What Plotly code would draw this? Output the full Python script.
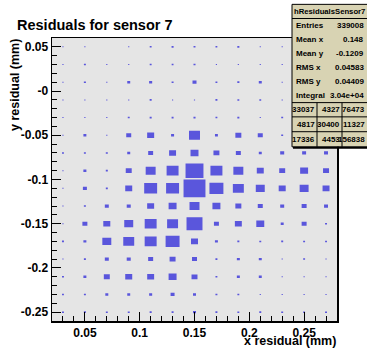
import numpy as np
import plotly.graph_objects as go

# ---------------- data ----------------
x_centers = [0.03, 0.05, 0.07, 0.09, 0.11, 0.13, 0.15, 0.17, 0.19, 0.21, 0.23, 0.25, 0.27]
y_centers = [0.05, 0.03, 0.01, -0.01, -0.03, -0.05, -0.07, -0.09, -0.11, -0.13,
             -0.15, -0.17, -0.19, -0.21, -0.23, -0.25]
bin_width = 0.02

# bin contents, one row per y bin (top to bottom), one column per x bin
counts = [
    [5, 6, 0, 4, 19, 22, 20, 18, 23, 6, 4, 5, 5],
    [4, 21, 5, 6, 20, 18, 22, 6, 5, 4, 6, 5, 5],
    [5, 23, 6, 47, 50, 21, 86, 20, 24, 48, 6, 20, 20],
    [4, 5, 6, 5, 22, 6, 5, 21, 20, 19, 5, 5, 5],
    [5, 6, 4, 20, 22, 21, 23, 19, 22, 6, 20, 20, 20],
    [5, 47, 4, 133, 262, 48, 640, 46, 190, 135, 20, 48, 48],
    [20, 21, 22, 48, 131, 258, 340, 189, 133, 47, 86, 84, 85],
    [6, 49, 22, 190, 528, 762, 1715, 765, 531, 258, 190, 338, 192],
    [6, 86, 21, 261, 895, 898, 2565, 1040, 642, 430, 262, 428, 259],
    [5, 22, 84, 86, 260, 338, 532, 340, 192, 134, 85, 133, 84],
    [6, 133, 262, 430, 760, 640, 1360, 132, 258, 338, 47, 133, 21],
    [21, 48, 428, 640, 765, 1038, 261, 47, 22, 20, 21, 20, 19],
    [5, 21, 85, 86, 133, 190, 133, 21, 48, 47, 5, 20, 5],
    [20, 48, 190, 262, 258, 340, 189, 20, 48, 47, 5, 5, 6],
    [19, 21, 48, 47, 49, 85, 48, 21, 20, 5, 6, 5, 5],
    [20, 21, 19, 20, 22, 21, 48, 21, 20, 21, 20, 19, 20],
]

xtick_vals = [0.05, 0.1, 0.15, 0.2, 0.25]
xtick_text = ["0.05", "0.1", "0.15", "0.2", "0.25"]
ytick_vals = [0.05, 0.0, -0.05, -0.1, -0.15, -0.2, -0.25]
ytick_text = ["0.05", "-0", "-0.05", "-0.1", "-0.15", "-0.2", "-0.25"]

title_text = "Residuals for sensor 7"
x_title = "x residual (mm)"
y_title = "y residual (mm)"

stat_title = "hResidualsSensor7"
stat_names = ["Entries", "Mean x", "Mean y", "RMS x", "RMS y", "Integral"]
stat_values = ["339008", "0.148", "-0.1209", "0.04583", "0.04409", "3.04e+04"]
grid_values = [["33037", "4327", "76473"],
               ["4817", "30400", "11327"],
               ["17336", "4453", "156838"]]

# ---------------- geometry / style ----------------
W, H = 367, 352
L, R, T, B = 52, 30, 38, 28
PW, PH = W - L - R, H - T - B
FONT = "Liberation Sans"
BOXCOL = "#5a56dc"
STATCOL = "#d8d3b3"


def px(x):
    return (x - L) / PW


def py(y):
    return (H - B - y) / PH


# ---------------- boxes (area proportional to content) ----------------
cnt = np.array(counts, dtype=float)
cmax = cnt.max()
xs, ys = [], []
for j, yc in enumerate(y_centers):
    for i, xc in enumerate(x_centers):
        c = cnt[j, i]
        if c <= 0:
            continue
        r = max(np.sqrt(c / cmax), 0.055)
        hx = 0.5 * bin_width * r
        hy = 0.5 * bin_width * r
        xs += [xc - hx, xc + hx, xc + hx, xc - hx, xc - hx, None]
        ys += [yc - hy, yc - hy, yc + hy, yc + hy, yc - hy, None]

fig = go.Figure()
fig.add_trace(go.Scatter(x=xs, y=ys, mode="lines", fill="toself",
                         fillcolor=BOXCOL, line=dict(width=0, color=BOXCOL),
                         hoverinfo="skip", showlegend=False))

tickfont = dict(family=FONT, size=12, color="black", weight="bold")
axis_common = dict(showline=True, linecolor="black", linewidth=1.5, mirror=True,
                   showgrid=False, zeroline=False, ticks="inside", ticklen=9,
                   tickwidth=1, tickcolor="black", tickfont=tickfont,
                   tickmode="array")
fig.update_xaxes(range=[0.02, 0.28], tickvals=xtick_vals, ticktext=xtick_text,
                 minor=dict(ticks="inside", ticklen=5, tickwidth=1, tickcolor="black",
                            tick0=0.0, dtick=0.01),
                 **axis_common)
fig.update_yaxes(range=[-0.26, 0.06], tickvals=ytick_vals, ticktext=ytick_text,
                 minor=dict(ticks="inside", ticklen=5, tickwidth=1, tickcolor="black",
                            tick0=0.0, dtick=0.01),
                 **axis_common)

shapes = []
annots = []

# axis titles
annots.append(dict(text="<b>%s</b>" % x_title, xref="paper", yref="paper",
                   x=1.0, y=py(344), xanchor="right", yanchor="middle",
                   showarrow=False, borderpad=0,
                   font=dict(family=FONT, size=12.5, color="black")))
annots.append(dict(text="<b>%s</b>" % y_title, xref="paper", yref="paper",
                   x=px(15), y=1.0, xanchor="center", yanchor="top", textangle=-90,
                   showarrow=False, borderpad=0,
                   font=dict(family=FONT, size=12.5, color="black")))

# stats box
bx0, bx1, by0, by1 = 292, 368, 4, 148
shapes.append(dict(type="rect", xref="paper", yref="paper", x0=px(bx0), x1=px(bx1),
                   y0=py(by1), y1=py(by0), fillcolor=STATCOL,
                   line=dict(color="black", width=1), layer="above"))
shapes.append(dict(type="line", xref="paper", yref="paper", x0=px(bx0 + 1), x1=px(bx1),
                   y0=py(by1 + 1), y1=py(by1 + 1), line=dict(color="black", width=2),
                   layer="above"))
for yl in [18.3, 103.3, 117.7, 132.7]:
    shapes.append(dict(type="line", xref="paper", yref="paper", x0=px(bx0), x1=px(bx1),
                       y0=py(yl), y1=py(yl), line=dict(color="black", width=1),
                       layer="above"))
for xl in [317, 342]:
    shapes.append(dict(type="line", xref="paper", yref="paper", x0=px(xl), x1=px(xl),
                       y0=py(103.3), y1=py(by1), line=dict(color="black", width=1),
                       layer="above"))

sfont = dict(family=FONT, size=8, color="black")
annots.append(dict(text="<b>%s</b>" % stat_title, xref="paper", yref="paper",
                   x=px(329), y=py(11.5), xanchor="center", yanchor="middle",
                   showarrow=False, borderpad=0,
                   font=dict(family=FONT, size=7.7, color="black")))
row_h = (103.3 - 18.3) / len(stat_names)
for k, (nm, vl) in enumerate(zip(stat_names, stat_values)):
    yc = 18.3 + row_h * (k + 0.5)
    annots.append(dict(text="<b>%s</b>" % nm, xref="paper", yref="paper",
                       x=px(295), y=py(yc), xanchor="left", yanchor="middle",
                       showarrow=False, borderpad=0, font=sfont))
    annots.append(dict(text="<b>%s</b>" % vl, xref="paper", yref="paper",
                       x=px(365), y=py(yc), xanchor="right", yanchor="middle",
                       showarrow=False, borderpad=0, font=sfont))
grid_rows_y = [110.5, 125.2, 140.3]
grid_cols_right = [316, 341, 366]
for r_i, row in enumerate(grid_values):
    for c_i, v in enumerate(row):
        annots.append(dict(text="<b>%s</b>" % v, xref="paper", yref="paper",
                           x=px(grid_cols_right[c_i]), y=py(grid_rows_y[r_i]),
                           xanchor="right", yanchor="middle", showarrow=False,
                           borderpad=0, font=sfont))

fig.update_layout(
    width=W, height=H, autosize=False,
    margin=dict(l=L, r=R, t=T, b=B, pad=0),
    paper_bgcolor="white", plot_bgcolor="#e5e5e5",
    title=dict(text="<b>%s</b>" % title_text, xref="container", yref="container",
               x=17 / W, y=1 - 24.5 / H, xanchor="left", yanchor="middle",
               font=dict(family=FONT, size=14.5, color="black")),
    shapes=shapes, annotations=annots, showlegend=False,
)

fig.write_html(
    "out.html",
    config={"displayModeBar": False, "staticPlot": True},
    post_script="document.body.style.margin='0';document.body.style.padding='0';"
                "document.body.style.overflow='hidden';",
)
